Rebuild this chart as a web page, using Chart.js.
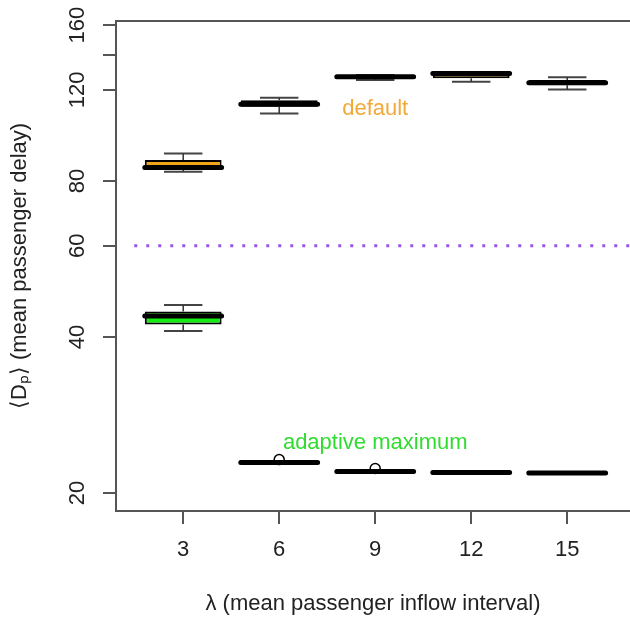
<!DOCTYPE html>
<html><head><meta charset="utf-8">
<script src="https://cdn.jsdelivr.net/npm/chart.js@4.4.0/dist/chart.umd.min.js"></script>
<style>html,body{margin:0;padding:0;background:#fff;overflow:hidden}</style>
</head><body>
<canvas id="c" width="630" height="626"></canvas>
<script>
// ---- data ----
const CATEGORIES = ['3', '6', '9', '12', '15'];
const POSITIONS = [1, 2, 3, 4, 5];
const Y_TICKS = [20, 40, 60, 80, 120, 140, 160];
const Y_TICK_LABELS = ['20', '40', '60', '80', '120', '', '160'];

const DEFAULT_MIN = [83.4, 108.0, 125.3, 124.3, 120.2];
const DEFAULT_Q1  = [84.2, 111.3, 126.5, 126.3, 122.5];
const DEFAULT_MED = [85.0, 112.5, 127.2, 129.0, 123.8];
const DEFAULT_Q3  = [87.8, 114.6, 127.8, 129.5, 125.3];
const DEFAULT_MAX = [90.4, 115.8, 128.2, 129.8, 126.8];

const ADAPT_MIN = [41.1, 22.80, 21.95, 21.85, 21.80];
const ADAPT_Q1  = [42.3, 22.85, 21.98, 21.88, 21.83];
const ADAPT_MED = [43.9, 22.90, 22.00, 21.90, 21.85];
const ADAPT_Q3  = [44.8, 22.95, 22.02, 21.92, 21.87];
const ADAPT_MAX = [46.1, 23.00, 22.05, 21.95, 21.90];
const ADAPT_OUTLIERS = [[], [23.2], [22.3], [], []];

const THRESHOLD = 60;

const LABEL_TEXTS = ['default', 'adaptive maximum'];
const LABEL_X = [3, 3];
const LABEL_Y = [110, 25];

// ---- styles ----
const ORANGE = '#F2A516';
const GREEN = '#14EC14';
const TEXT_ORANGE = '#F2A93A';
const TEXT_GREEN = '#30DC30';
const PURPLE = '#9B55E8';
const AXIS = '#555555';
const FONT = '"Liberation Sans", Arial, Helvetica, sans-serif';
const FS = 22;

const BOX_HALF = 0.4, CAP_HALF = 0.2;

function segs(builder) {
  const out = [];
  POSITIONS.forEach((p, i) => builder(p, i).forEach(s => { out.push(s[0], s[1], {x: p, y: null}); }));
  return out;
}
function whiskers(MIN, Q1, Q3, MAX) {
  return segs((p, i) => [[{x: p, y: Q3[i]}, {x: p, y: MAX[i]}], [{x: p, y: Q1[i]}, {x: p, y: MIN[i]}]]);
}
function caps(MIN, MAX) {
  return segs((p, i) => [[{x: p - CAP_HALF, y: MAX[i]}, {x: p + CAP_HALF, y: MAX[i]}],
                         [{x: p - CAP_HALF, y: MIN[i]}, {x: p + CAP_HALF, y: MIN[i]}]]);
}
function medians(MED) {
  return segs((p, i) => [[{x: p - BOX_HALF, y: MED[i]}, {x: p + BOX_HALF, y: MED[i]}]]);
}
function boxes(Q1, Q3) {
  return POSITIONS.map((p, i) => ({x: p, y: [Q1[i], Q3[i]]}));
}
function outliers(OUT) {
  const pts = [];
  POSITIONS.forEach((p, i) => OUT[i].forEach(v => pts.push({x: p, y: v})));
  return pts;
}

const X_MIN = 0.3, X_MAX = 5.654;

const segStyle = (color, width, order, cap) => ({
  type: 'line', borderColor: color, borderWidth: width, pointRadius: 0,
  spanGaps: false, fill: false, order: order, borderCapStyle: cap || 'butt', tension: 0
});

const overlay = {
  id: 'overlay',
  afterDraw(chart) {
    const {ctx, chartArea, scales} = chart;
    const xs = scales.x, ys = scales.y;
    ctx.save();
    ctx.strokeStyle = AXIS; ctx.lineWidth = 2;
    ctx.beginPath();
    ctx.moveTo(chartArea.left - 1, chartArea.top);
    ctx.lineTo(chartArea.right, chartArea.top);
    ctx.stroke();
    ctx.fillStyle = '#222';
    ctx.font = FS + 'px ' + FONT;
    ctx.textAlign = 'center'; ctx.textBaseline = 'middle';
    ys.ticks.forEach(t => {
      const lbl = Y_TICK_LABELS[Y_TICKS.indexOf(t.value)];
      if (!lbl) return;
      const py = ys.getPixelForValue(t.value);
      ctx.save(); ctx.translate(78, py); ctx.rotate(-Math.PI / 2);
      ctx.fillText(lbl, 0, 0); ctx.restore();
    });
    const cols = [TEXT_ORANGE, TEXT_GREEN];
    LABEL_TEXTS.forEach((txt, i) => {
      ctx.fillStyle = cols[i];
      ctx.fillText(txt, xs.getPixelForValue(LABEL_X[i]), ys.getPixelForValue(LABEL_Y[i]));
    });
    ctx.restore();
  }
};

Chart.defaults.font.family = FONT;
Chart.defaults.font.size = FS;
Chart.defaults.color = '#222';

new Chart(document.getElementById('c'), {
  type: 'bar',
  data: {
    datasets: [
      Object.assign(segStyle('#000', 5, 0, 'round'), {label: 'default median', data: medians(DEFAULT_MED)}),
      Object.assign(segStyle('#000', 5, 0, 'round'), {label: 'adaptive median', data: medians(ADAPT_MED)}),
      {type: 'bar', label: 'default', data: boxes(DEFAULT_Q1, DEFAULT_Q3), backgroundColor: ORANGE,
       borderColor: '#000', borderWidth: 2, borderSkipped: false, grouped: false, order: 3,
       barPercentage: 1.0, categoryPercentage: 0.8},
      {type: 'bar', label: 'adaptive maximum', data: boxes(ADAPT_Q1, ADAPT_Q3), backgroundColor: GREEN,
       borderColor: '#000', borderWidth: 2, borderSkipped: false, grouped: false, order: 3,
       barPercentage: 1.0, categoryPercentage: 0.8},
      Object.assign(segStyle('#333', 1.5, 2), {label: 'default whiskers', data: whiskers(DEFAULT_MIN, DEFAULT_Q1, DEFAULT_Q3, DEFAULT_MAX)}),
      Object.assign(segStyle('#333', 1.5, 2), {label: 'adaptive whiskers', data: whiskers(ADAPT_MIN, ADAPT_Q1, ADAPT_Q3, ADAPT_MAX)}),
      Object.assign(segStyle('#444', 2, 2), {label: 'default caps', data: caps(DEFAULT_MIN, DEFAULT_MAX)}),
      Object.assign(segStyle('#444', 2, 2), {label: 'adaptive caps', data: caps(ADAPT_MIN, ADAPT_MAX)}),
      {type: 'scatter', label: 'outliers', data: outliers(ADAPT_OUTLIERS), pointStyle: 'circle',
       pointRadius: 5, pointBackgroundColor: 'rgba(0,0,0,0)', pointBorderColor: '#000', pointBorderWidth: 1.5, order: 1},
      Object.assign(segStyle(PURPLE, 3, 4), {label: 'threshold', borderDash: [3, 9],
       data: [{x: 0.49, y: THRESHOLD}, {x: X_MAX, y: THRESHOLD}]})
    ]
  },
  options: {
    responsive: false,
    devicePixelRatio: 1,
    animation: false,
    layout: {autoPadding: false, padding: {top: 21, right: 0, bottom: 0, left: 0}},
    plugins: {legend: {display: false}, tooltip: {enabled: false}},
    scales: {
      x: {
        type: 'linear', min: X_MIN, max: X_MAX, bounds: 'data', offset: false,
        afterBuildTicks: s => { s.ticks = POSITIONS.map(v => ({value: v})); },
        afterFit: s => { s.height = 115; s.paddingLeft = 0; s.paddingRight = 0; },
        ticks: {callback: v => CATEGORIES[POSITIONS.indexOf(v)], padding: 13, maxRotation: 0, autoSkip: false, color: '#222'},
        grid: {display: true, offset: false, drawOnChartArea: false, drawTicks: true, tickLength: 13, color: AXIS, lineWidth: 2},
        border: {display: true, color: AXIS, width: 2},
        title: {display: true, text: 'λ (mean passenger inflow interval)', color: '#222', font: {size: FS}, padding: {top: 0, bottom: 9}}
      },
      y: {
        type: 'logarithmic', min: 18.46, max: 162.9, bounds: 'data',
        afterBuildTicks: s => { s.ticks = Y_TICKS.map(v => ({value: v})); },
        afterFit: s => { s.width = 116; s.paddingTop = 0; s.paddingBottom = 0; },
        ticks: {display: false},
        grid: {display: true, drawOnChartArea: false, drawTicks: true, tickLength: 13, color: AXIS, lineWidth: 2},
        border: {display: true, color: AXIS, width: 2},
        title: {display: true, text: '⟨Dₚ⟩ (mean passenger delay)', color: '#222', font: {size: FS}, padding: {top: 7, bottom: 0}}
      }
    }
  },
  plugins: [overlay]
});
</script>
</body></html>
